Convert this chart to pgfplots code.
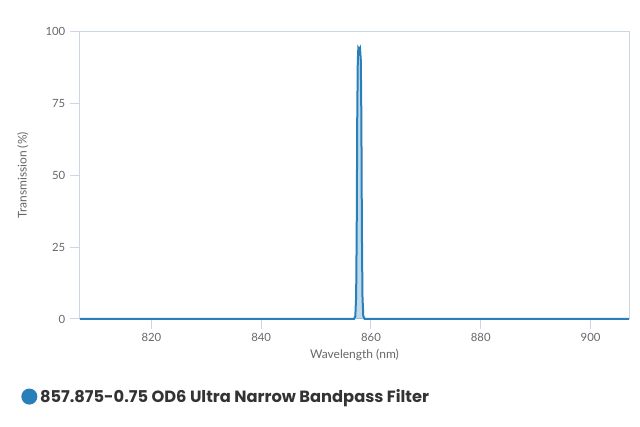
\documentclass[border=0pt]{standalone}
\usepackage{fontspec}
\setmainfont{Lato}
\newfontfamily\legfont{Poppins}
\usepackage{pgfplots}
\usepackage{pgfplotstable}
\pgfplotsset{compat=1.18}

\definecolor{series}{RGB}{41,128,185}
\definecolor{axisgray}{RGB}{204,214,235}
\definecolor{labelgray}{RGB}{102,102,102}
\definecolor{legendtext}{RGB}{51,51,51}

% transmission spectrum, wavelength in nm, transmission in %
\pgfplotstableread{
wl     T
807.0  0
856.9  0
857.15 1
857.3  8
857.4  30
857.5  70
857.6  90
857.7  94.3
857.85 93.8
858.0  94.3
858.15 90
858.25 70
858.35 30
858.45 8
858.6  1
858.85 0
907.0  0
}\spectrum

\begin{document}
\begin{tikzpicture}
\useasboundingbox (0,0) rectangle (480pt,320.25pt);
\begin{axis}[
    at={(60pt,81pt)}, anchor=south west,
    scale only axis,
    width=411.75pt, height=215.5pt,
    xmin=807, xmax=907,
    ymin=0, ymax=100,
    xtick={820,840,860,880,900},
    ytick={0,25,50,75,100},
    xtick pos=lower, ytick pos=left,
    tick align=outside,
    major tick length=7.5pt,
    axis line style={axisgray, line width=0.75pt},
    tick style={axisgray, line width=0.75pt},
    ticklabel style={font=\fontsize{8.5}{10}\selectfont, text=labelgray},
    /pgf/number format/assume math mode=true,
    xlabel={Wavelength (nm)},
    ylabel={Transmission (\%)},
    label style={font=\fontsize{9}{11}\selectfont, text=labelgray},
    xlabel style={at={(axis description cs:0.5,-0.125)}, anchor=center},
    ylabel style={at={(axis description cs:-0.104,0.5)}, anchor=center},
    legend style={
        at={(axis description cs:-0.1146,-0.27)}, anchor=west,
        draw=none, fill=none,
        font=\legfont\bfseries\fontsize{12.2}{14}\selectfont,
        text=legendtext,
    },
    legend cell align=left,
    clip=false,
]
\addplot[draw=none, fill=series, fill opacity=0.3, forget plot]
    table[x=wl, y=T] {\spectrum} \closedcycle;
\addplot[series, line width=1.5pt,
    legend image code/.code={\fill[series] (0.15cm,0cm) circle (5.25pt);}]
    table[x=wl, y=T] {\spectrum};
\addlegendentry{857.875-0.75 OD6 Ultra Narrow Bandpass Filter}
\end{axis}
\end{tikzpicture}
\end{document}
